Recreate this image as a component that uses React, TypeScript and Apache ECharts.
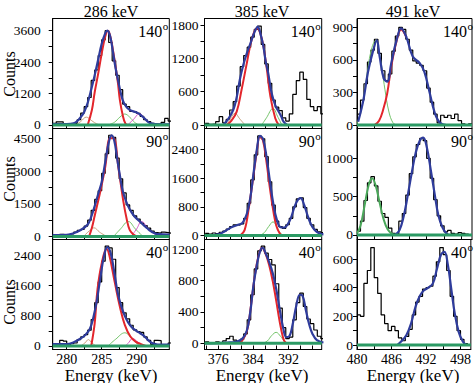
import React, { useEffect, useRef } from "react";
import * as echarts from "echarts";

// ---------- texts ----------
const columnTitles = ["286 keV", "385 keV", "491 keV"];
const angleLabels = ["140", "90", "40"];
const yTitle = "Counts";
const xTitle = "Energy (keV)";

// ---------- axes ----------
const binStart = [278.0, 373.0, 480.0];
const binWidth = [0.5, 0.8, 0.6];
const xMin = [278, 372.85, 480];
const xMax = [294.66, 399.6, 499.8];
const xLabels = [[280, 285, 290], [376, 384, 392], [480, 486, 492, 498]];
const xTicks = [
  [280, 282.5, 285, 287.5, 290, 292.5],
  [373.33, 376, 378.67, 381.33, 384, 386.67, 389.33, 392, 394.67, 397.33],
  [480, 483, 486, 489, 492, 495, 498],
];
const yLabels = [
  [[0, 1200, 2400, 3600], [0, 600, 1200, 1800], [0, 300, 600, 900]],
  [[0, 1500, 3000, 4500], [0, 800, 1600, 2400], [0, 500, 1000]],
  [[0, 800, 1600, 2400], [0, 400, 800, 1200], [0, 200, 400, 600]],
];
const yRange = [
  [[-134, 4066], [-63, 1917], [-32, 981]],
  [[-138, 4959], [-112, 2986], [-59, 1389]],
  [[-93, 2824], [-79, 1325], [-31, 736]],
];

// ---------- histograms ----------
const hist286_140 = [60,120,120,30,0,20,60,200,450,700,1050,1700,2100,2650,3250,3600,3150,2450,1900,1350,800,700,520,500,440,330,200,130,60,30,20,100,250,150];
const hist385_140 = [30,10,20,60,150,40,100,270,420,700,1050,1250,1400,1580,1720,1780,1450,1100,750,450,320,260,130,70,200,550,800,950,820,460,330,260,330,200];
const hist491_140 = [100,230,380,580,690,790,660,500,410,470,680,820,900,880,790,690,590,570,550,500,340,210,100,20,90,70,90,60,100,40,10,0,10];
const hist286_90 = [80,60,100,80,60,120,200,280,330,480,750,1200,1700,2100,2900,3800,4650,4550,3600,2650,2000,1450,1200,950,800,620,500,380,250,180,150,200,180,150];
const hist385_90 = [60,40,70,50,90,120,180,250,300,290,320,480,900,1550,2250,2780,2700,2200,1500,850,400,250,200,300,480,800,1020,1050,780,480,300,170,100,80];
const hist491_90 = [50,180,450,680,760,640,440,280,230,90,20,10,180,280,520,800,1020,1180,1260,1230,1000,740,460,250,120,40,60,20,10,30,20,10,0];
const hist286_40 = [30,20,150,130,20,60,80,170,240,300,420,700,1150,1700,2250,2650,2600,2300,1550,1150,880,720,550,430,380,360,240,150,40,150,140,20,10,80];
const hist385_40 = [20,10,0,20,10,30,60,90,40,20,50,120,300,620,950,1180,1240,1150,1070,1000,760,450,200,60,80,300,520,640,470,310,250,170,90,60];
const hist491_40 = [210,200,430,520,680,470,360,210,150,100,130,100,50,30,60,110,210,300,340,390,400,410,480,580,680,630,520,340,200,100,40,10,0];

// ---------- fit curves ----------
const blue286_140 = [[278,30],[280,30],[281,60],[281.5,150],[282,300],[282.5,500],[283,850],[283.5,1350],[284,1900],[284.5,2500],[285,3100],[285.5,3500],[285.8,3600],[286.2,3400],[286.6,2800],[287,2150],[287.5,1500],[288,950],[288.5,700],[289,580],[289.5,520],[290,480],[290.5,400],[291,280],[291.5,150],[292,60],[293,25],[294.7,20]];
const red286_140 = [[283.0,0],[283.6,570],[284.0,1250],[284.5,1960],[285.0,2730],[285.5,3370],[285.9,3600],[286.3,3300],[286.8,2540],[287.3,1650],[287.6,950],[288.0,380],[288.4,50],[288.8,0]];
const brown286_140 = [[281.3,0],[282,130],[282.8,300],[283.6,160],[284.3,40],[284.9,0]];
const green286_140 = [[285.9,0],[286.8,100],[287.6,300],[288.3,420],[289,300],[289.7,100],[290.3,0]];
const mag286_140 = [[288.7,0],[289.5,200],[290.4,430],[291.2,250],[292,40],[292.6,0]];

const blue385_140 = [[377.1,0],[378.2,100],[379.4,270],[380.2,500],[380.9,810],[381.7,1080],[382.5,1290],[383.3,1460],[384,1620],[384.6,1730],[385,1770],[385.6,1650],[386.3,1410],[386.8,1150],[387.4,930],[388,640],[388.6,450],[389.2,320],[389.8,240],[390.4,150],[390.9,60],[391.7,0]];
const red385_140 = [[377.9,0],[379,80],[380.2,240],[381.3,630],[382.5,1110],[383.6,1530],[384.8,1740],[385.9,1560],[387,1050],[387.9,510],[389,120],[389.8,0]];
const brown385_140 = [[377.9,0],[378.8,120],[379.8,210],[380.9,110],[382.1,0]];
const green385_140 = [[385.9,0],[387,130],[388.5,300],[389.5,160],[390.5,0]];

const blue491_140 = [[480.2,30],[481.1,230],[481.9,490],[482.8,690],[483.4,780],[483.9,630],[484.6,430],[485.2,400],[485.9,570],[486.8,780],[487.6,890],[488.5,810],[489.6,630],[490.8,570],[491.6,490],[492.5,300],[493.4,110],[494.3,20],[495.4,0]];
const green491_140 = [[480,10],[480.8,150],[481.6,420],[482.4,680],[483.2,780],[484,620],[484.8,330],[485.5,120],[486.2,20],[486.8,0]];
const red491_140 = [[483,0],[483.8,40],[484.5,140],[485.2,290],[485.9,540],[486.8,770],[487.6,880],[488.5,810]];

const blue286_90 = [[278,60],[280,80],[281,150],[282,300],[283,550],[283.5,900],[284,1400],[284.5,1950],[285,2500],[285.5,3400],[286,4300],[286.4,4650],[286.8,4400],[287.2,3600],[287.6,2800],[288,2100],[288.5,1600],[289,1250],[289.5,1000],[290,820],[290.5,680],[291,520],[291.5,380],[292,250],[292.5,160],[293,110],[294.7,90]];
const red286_90 = [[283.2,0],[283.6,400],[284,950],[284.8,2070],[285.5,3180],[286.2,4510],[286.7,4510],[287.4,3130],[288.1,1600],[288.6,760],[289,300],[289.5,100],[290,0]];
const brown286_90 = [[282.4,0],[283.2,250],[283.9,400],[284.7,200],[285.7,0]];
const green286_90 = [[286.7,0],[287.7,350],[288.8,690],[289.8,350],[290.9,0]];
const mag286_90 = [[289.2,0],[290,350],[290.7,690],[291.8,300],[293.1,0]];

const blue385_90 = [[373,0],[376,30],[377.5,120],[379,230],[380.5,300],[381.5,350],[382.5,600],[383.3,1050],[384,1700],[384.8,2400],[385.5,2780],[386.2,2700],[387,2200],[387.8,1500],[388.6,850],[389.4,420],[390.2,230],[391,220],[391.8,300],[392.6,500],[393.4,800],[394.2,1000],[394.8,1040],[395.6,850],[396.4,550],[397.2,300],[398,150],[399,60],[400,30]];
const red385_90 = [[381,0],[382,150],[383,800],[384,1650],[384.8,2350],[385.5,2760],[386.2,2650],[387,2050],[387.8,1300],[388.6,650],[389.3,250],[390,60],[390.6,0]];
const green385_90 = [[385.5,0],[386.5,80],[387.5,250],[388.5,380],[389.3,250],[390.2,60],[391,0]];

const green491_90 = [[480,20],[480.6,120],[481.3,380],[482,650],[482.6,740],[483.2,650],[483.9,420],[484.6,200],[485.3,70],[486,15],[486.7,0]];
const blue491_90 = [[486.5,0],[487.3,60],[488,230],[488.7,500],[489.4,800],[490.1,1070],[490.8,1230],[491.4,1270],[492,1150],[492.7,850],[493.4,520],[494,260],[494.7,100],[495.4,20],[496,0]];

const blue286_40 = [[278,50],[280,50],[281,100],[282,200],[282.7,300],[283.3,450],[283.8,750],[284.3,1200],[284.8,1800],[285.3,2350],[285.8,2620],[286.3,2450],[286.8,1950],[287.3,1400],[287.8,1050],[288.3,800],[288.8,620],[289.3,500],[289.8,420],[290.3,360],[290.8,300],[291.3,220],[291.8,130],[292.3,70],[293,40],[294.7,40]];
const red286_40 = [[283.5,0],[284,600],[284.4,1500],[285,2190],[285.7,2580],[286.1,2400],[286.9,1660],[287.6,1040],[288.3,560],[289.1,250],[289.9,110],[290.6,50],[291.3,0]];
const brown286_40 = [[282,0],[282.6,80],[283.1,170],[283.6,80],[284.2,0]];
const green286_40 = [[285.9,0],[287,180],[288.3,350],[289.4,180],[290.4,0]];
const mag286_40 = [[288.4,0],[288.9,100],[289.4,200],[290.2,100],[291.1,0]];

const blue385_40 = [[373,0],[378,10],[380,20],[381.5,60],[382.5,160],[383.3,400],[384,730],[384.8,1000],[385.5,1170],[386.1,1220],[386.8,1150],[387.6,1040],[388.4,900],[389.2,700],[390,440],[390.8,200],[391.5,80],[392.2,90],[393,250],[393.8,480],[394.6,620],[395.2,610],[396,420],[396.8,230],[397.5,120],[398.5,40],[400,10]];
const red385_40 = [[381,0],[382.5,150],[383.5,500],[384.3,850],[385.2,1120],[386,1220],[386.8,1140],[387.6,1000],[388.4,800],[389.2,550],[390,280],[390.7,90],[391.3,10],[392,0]];
const green385_40 = [[386.2,0],[387.2,30],[388.2,100],[389.2,140],[390.2,90],[391.2,20],[392,0]];

const blue491_40 = [[487,0],[487.8,30],[488.6,70],[489.4,150],[490.2,270],[490.9,340],[491.6,380],[492.4,400],[493.2,430],[493.9,530],[494.6,630],[495.2,650],[495.8,560],[496.4,390],[497,220],[497.7,90],[498.4,25],[499,0]];

// ---------- styling ----------
const BLUE = "#2f3c9c";
const RED = "#e3262c";
const GREEN_C = "#74c46a";
const BROWN = "#c9a27e";
const MAG = "#d45ac6";
const BASE = "#2b9a64";
const FIT_GREEN = "#4aa85a";
const FONT = "Liberation Serif, Times New Roman, serif";
const TICK_FONT = 13.5;

const colLeft = [52.7, 204.5, 357];
const colRight = [169.3, 321.7, 472];
const rowTop = [18.5, 128.5, 239.5];
const rowBottom = [128.5, 239.5, 349.5];
const labelMargin = [12, 6, 4];

type Curve = { d: number[][]; color: string; w: number };
type Panel = { hist: number[]; curves: Curve[] };

const panels: Panel[][] = [
  [
    { hist: hist286_140, curves: [
      { d: brown286_140, color: BROWN, w: 1 }, { d: green286_140, color: GREEN_C, w: 1 }, { d: mag286_140, color: MAG, w: 1 },
      { d: red286_140, color: RED, w: 2 }, { d: blue286_140, color: BLUE, w: 2.2 } ] },
    { hist: hist385_140, curves: [
      { d: brown385_140, color: BROWN, w: 1 }, { d: green385_140, color: GREEN_C, w: 1 },
      { d: red385_140, color: RED, w: 2 }, { d: blue385_140, color: BLUE, w: 2.2 } ] },
    { hist: hist491_140, curves: [
      { d: green491_140, color: GREEN_C, w: 1 }, { d: red491_140, color: RED, w: 2 }, { d: blue491_140, color: BLUE, w: 2.2 } ] },
  ],
  [
    { hist: hist286_90, curves: [
      { d: brown286_90, color: BROWN, w: 1 }, { d: green286_90, color: GREEN_C, w: 1 }, { d: mag286_90, color: MAG, w: 1 },
      { d: red286_90, color: RED, w: 2 }, { d: blue286_90, color: BLUE, w: 2.2 } ] },
    { hist: hist385_90, curves: [
      { d: green385_90, color: GREEN_C, w: 1 }, { d: red385_90, color: RED, w: 2 }, { d: blue385_90, color: BLUE, w: 2.2 } ] },
    { hist: hist491_90, curves: [
      { d: green491_90, color: FIT_GREEN, w: 2 }, { d: blue491_90, color: BLUE, w: 2.2 } ] },
  ],
  [
    { hist: hist286_40, curves: [
      { d: brown286_40, color: BROWN, w: 1 }, { d: green286_40, color: GREEN_C, w: 1 }, { d: mag286_40, color: MAG, w: 1 },
      { d: red286_40, color: RED, w: 2 }, { d: blue286_40, color: BLUE, w: 2.2 } ] },
    { hist: hist385_40, curves: [
      { d: green385_40, color: GREEN_C, w: 1 }, { d: red385_40, color: RED, w: 2 }, { d: blue385_40, color: BLUE, w: 2.2 } ] },
    { hist: hist491_40, curves: [ { d: blue491_40, color: BLUE, w: 2.2 } ] },
  ],
];

function stepData(start: number, w: number, counts: number[]) {
  const pts = counts.map((v, i) => [start + i * w, v]);
  pts.push([start + counts.length * w, counts[counts.length - 1]]);
  return pts;
}

function midTicks(labels: number[]) {
  const out: number[] = [];
  for (let i = 0; i < labels.length; i++) {
    out.push(labels[i]);
    if (i < labels.length - 1) out.push((labels[i] + labels[i + 1]) / 2);
  }
  return out;
}

const plain = (v: number) => String(Math.round(v));

function buildOption() {
  const grid: any[] = [];
  const xAxis: any[] = [];
  const yAxis: any[] = [];
  const series: any[] = [];
  const graphic: any[] = [];

  for (let r = 0; r < 3; r++) {
    for (let c = 0; c < 3; c++) {
      const i = r * 3 + c;
      grid.push({
        left: colLeft[c], top: rowTop[r],
        width: colRight[c] - colLeft[c], height: rowBottom[r] - rowTop[r],
        show: true, borderColor: "#000", borderWidth: 1, backgroundColor: "transparent",
      });
      xAxis.push({
        gridIndex: i, type: "value", min: xMin[c], max: xMax[c],
        axisLine: { show: true, onZero: false, lineStyle: { color: "#000", width: 1 } },
        axisTick: { show: true, inside: true, length: 4, customValues: xTicks[c], lineStyle: { color: "#000" } },
        axisLabel: { show: r === 2, customValues: xLabels[c], formatter: plain, margin: 3, color: "#000", fontFamily: FONT, fontSize: 14 },
        splitLine: { show: false },
      });
      yAxis.push({
        gridIndex: i, type: "value", min: yRange[r][c][0], max: yRange[r][c][1],
        axisLine: { show: true, lineStyle: { color: "#000", width: 1 } },
        axisTick: { show: true, inside: false, length: 4, customValues: midTicks(yLabels[r][c]), lineStyle: { color: "#000" } },
        axisLabel: { show: true, customValues: yLabels[r][c], formatter: plain, margin: labelMargin[c], color: "#000", fontFamily: FONT, fontSize: TICK_FONT },
        splitLine: { show: false },
      });
      const p = panels[r][c];
      series.push({
        type: "line", xAxisIndex: i, yAxisIndex: i, step: "end", symbol: "none",
        data: stepData(binStart[c], binWidth[c], p.hist),
        lineStyle: { color: "#000", width: 1.2 }, z: 2, silent: true,
      });
      p.curves.forEach((cv, k) => {
        series.push({
          type: "line", xAxisIndex: i, yAxisIndex: i, symbol: "none", smooth: 0.4,
          data: cv.d, lineStyle: { color: cv.color, width: cv.w }, z: 3 + k, silent: true,
        });
      });
      series.push({
        type: "line", xAxisIndex: i, yAxisIndex: i, symbol: "none",
        data: [[xMin[c], 0], [xMax[c], 0]],
        lineStyle: { color: BASE, width: 3 }, z: 20, silent: true,
      });
      const right = colRight[c] - (c === 2 ? 5 : 7);
      graphic.push({
        type: "text", x: right, y: rowTop[r] + 13,
        style: { text: angleLabels[r], font: `16px ${FONT}`, fill: "#000", align: "right", verticalAlign: "middle" },
        z: 50,
      });
      graphic.push({
        type: "text", x: right + 0.5, y: rowTop[r] + 7,
        style: { text: "o", font: `11px ${FONT}`, fill: "#000", align: "left", verticalAlign: "middle" },
        z: 50,
      });
    }
  }

  const countsY = [74, 179, 302];
  countsY.forEach((y) => {
    graphic.push({
      type: "text", x: 9.5, y, rotation: Math.PI / 2,
      style: { text: yTitle, font: `16px ${FONT}`, fill: "#000", align: "center", verticalAlign: "middle" },
    });
  });
  const colCenters = [111, 262, 413];
  colCenters.forEach((x, c) => {
    graphic.push({
      type: "text", x, y: 11,
      style: { text: columnTitles[c], font: `16px ${FONT}`, fill: "#000", align: "center", verticalAlign: "middle" },
    });
    graphic.push({
      type: "text", x, y: 375,
      style: { text: xTitle, font: `17px ${FONT}`, fill: "#000", align: "center", verticalAlign: "middle" },
    });
  });

  return { animation: false, backgroundColor: "#fff", grid, xAxis, yAxis, series, graphic };
}

export default function App() {
  const ref = useRef<HTMLDivElement>(null);
  useEffect(() => {
    if (!ref.current) return;
    const chart = echarts.init(ref.current, null, { renderer: "svg" });
    chart.setOption(buildOption() as any);
    return () => chart.dispose();
  }, []);
  return (
    <div
      ref={ref}
      style={{ position: "absolute", left: 0, top: 0, width: 474, height: 383, background: "#fff" }}
    />
  );
}
